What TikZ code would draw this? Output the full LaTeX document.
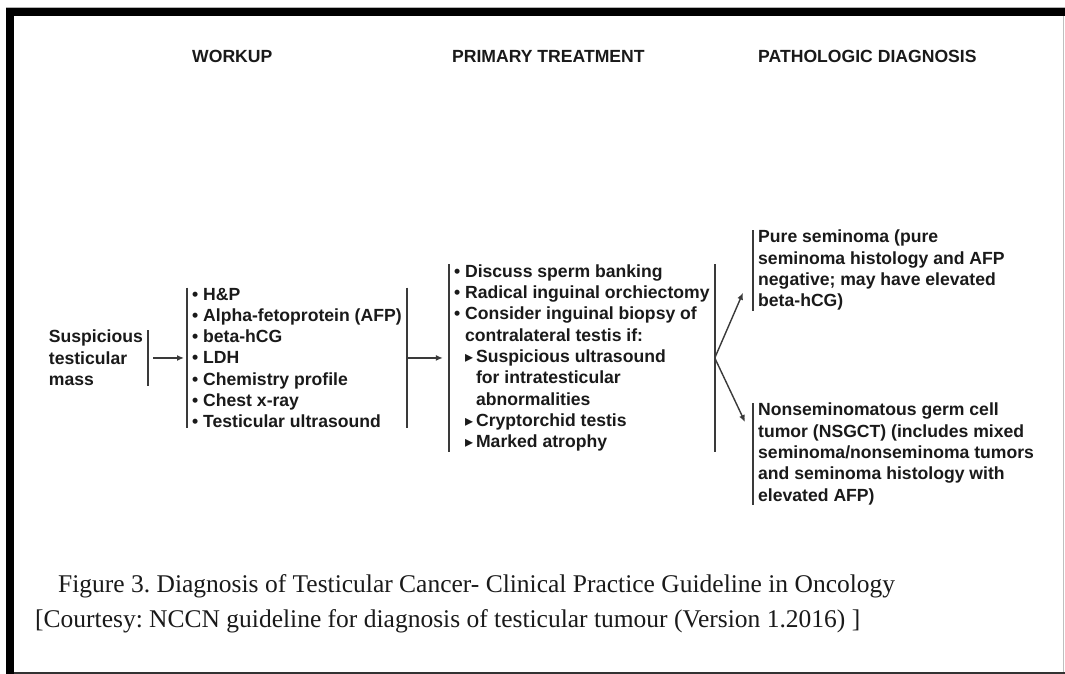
\documentclass[tikz,border=0pt]{standalone}
\usepackage{fontspec}
\usepackage{graphicx}
\setmainfont{Liberation Sans}
\newfontfamily\capfont{Liberation Serif}
\newfontfamily\symfont{DejaVu Sans}
\usetikzlibrary{positioning,calc,arrows.meta}
\frenchspacing

\definecolor{ink}{HTML}{1A1A1A}
\definecolor{rule}{HTML}{3A3A3A}

\newcommand{\bul}{\makebox[11pt][l]{•}}
\newcommand{\subbul}{\hspace*{11pt}\makebox[11pt][l]{\symfont\fontsize{16}{16}\selectfont ▸}}

\tikzset{
  hdr/.style={font=\bfseries\fontsize{17.6}{21.3}\selectfont, inner sep=0pt, anchor=base west, text=ink},
  txt/.style={font=\bfseries\fontsize{17.6}{21.3}\selectfont, align=left, inner xsep=5pt, inner ysep=0pt, text=ink},
  bar/.style={draw=rule, line width=1.8pt},
  arr/.style={draw=rule, line width=1.4pt, -{Latex[length=7pt,width=6pt]}},
  captext/.style={font=\capfont\fontsize{25.5}{30}\selectfont, inner sep=0pt, anchor=base west, text=ink}
}

\begin{document}
\begin{tikzpicture}[x=1pt,y=-1pt]
	\useasboundingbox (0,0) rectangle (1065,674);
	\fill[white] (0,0) rectangle (1065,674);
	
	% frame
	\draw[gray!60, line width=0.8pt] (6,7) -- (1065,7);
	\fill[black] (6,8) rectangle (1065,16);
	\fill[black] (6,8) rectangle (14,674);
	\draw[gray!50, line width=0.8pt] (1063.5,16) -- (1063.5,672);
	\fill[black!80] (14,672) rectangle (1065,674);
	
	% boxes
	\node[txt, anchor=north east] (mass) at (148,330) {Suspicious\\testicular\\mass};
	\node[txt, right=39pt of mass] (workup) {\bul H\&P\\\bul Alpha-fetoprotein (AFP)\\\bul beta-hCG\\\bul LDH\\\bul Chemistry profile\\\bul Chest x-ray\\\bul Testicular ultrasound};
	\node[txt, right=42pt of workup] (treat) {\bul Discuss sperm banking\\\bul Radical inguinal orchiectomy\\\bul Consider inguinal biopsy of\\\hspace*{11pt}contralateral testis if:\\\subbul Suspicious ultrasound\\\hspace*{22pt}for intratesticular\\\hspace*{22pt}abnormalities\\\subbul Cryptorchid testis\\\subbul Marked atrophy};
	\node[txt, anchor=north west] (pure) at (753,230) {Pure seminoma (pure\\seminoma histology and AFP\\negative; may have elevated\\beta-hCG)};
	\node[txt, anchor=north west] (nsgct) at (753,403) {Nonseminomatous germ cell\\tumor (NSGCT) (includes mixed\\seminoma/nonseminoma tumors\\and seminoma histology with\\elevated AFP)};
	
	% headers
	\coordinate (hrow) at (0,63);
	\node[hdr] (hwork) at ([xshift=5pt]workup.west |- hrow) {WORKUP};
	\node[hdr] (htreat) at ([xshift=3pt]treat.west |- hrow) {PRIMARY TREATMENT};
	\node[hdr] (hdiag) at ([xshift=5pt]pure.west |- hrow) {PATHOLOGIC DIAGNOSIS};
	
	% bars
	\draw[bar] (mass.north east) -- (mass.south east);
	\draw[bar] (workup.north west) -- (workup.south west);
	\draw[bar] (workup.north east) -- (workup.south east);
	\draw[bar] (treat.north west) -- (treat.south west);
	\draw[bar] (treat.north east) -- (treat.south east);
	\draw[bar] (pure.north west) -- (pure.south west);
	\draw[bar] (nsgct.north west) -- (nsgct.south west);
	
	% arrows
	\draw[arr] ([xshift=5pt]mass.east) -- ([xshift=-3pt]mass.east -| workup.west);
	\draw[arr] (workup.east) -- ([xshift=-6pt]workup.east -| treat.west);
	\draw[arr] (treat.east) -- ($(pure.south west)+(-10,-18)$);
	\draw[arr] (treat.east) -- ($(nsgct.north west)+(-8,19)$);
	
	% caption
	\node[captext] (cap1) at (58,592) {Figure 3. Diagnosis of Testicular Cancer- Clinical Practice Guideline in Oncology};
	\node[captext] (cap2) at (35,627) {[Courtesy: NCCN guideline for diagnosis of testicular tumour (Version 1.2016) ]};
\end{tikzpicture}
\end{document}
